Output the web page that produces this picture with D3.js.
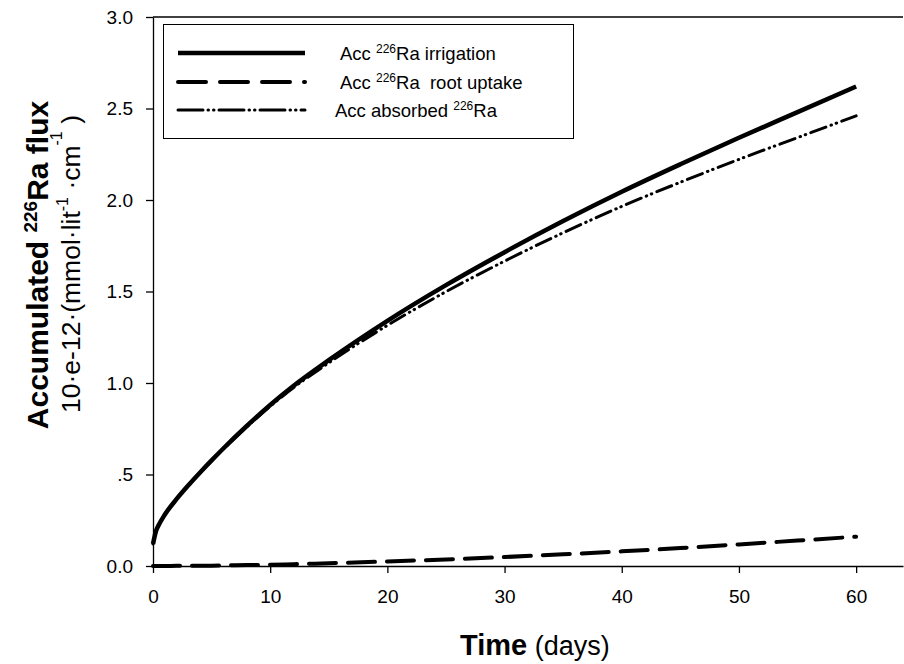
<!DOCTYPE html>
<html>
<head>
<meta charset="utf-8">
<script src="https://cdn.jsdelivr.net/npm/d3@7"></script>
<style>
  html, body { margin: 0; padding: 0; background: #fff; }
  svg text { font-family: Arial, "Liberation Sans", sans-serif; fill: #000; white-space: pre; }
</style>
</head>
<body>
<svg id="chart" width="904" height="664"></svg>
<script>
// ---- data ----
const days       = [0, 0.25, 0.5, 1, 2, 3, 4, 5, 6, 8, 10, 12, 15, 20, 25, 30, 35, 40, 45, 50, 55, 60];
const irrigation = [0.12, 0.19, 0.225, 0.28, 0.365, 0.44, 0.51, 0.577, 0.642, 0.765, 0.88, 0.985, 1.125, 1.34, 1.535, 1.715, 1.885, 2.045, 2.195, 2.34, 2.48, 2.62];
const rootUptake = [0, 0, 0, 0, 0.001, 0.001, 0.002, 0.002, 0.003, 0.005, 0.007, 0.010, 0.015, 0.025, 0.036, 0.049, 0.064, 0.080, 0.098, 0.118, 0.139, 0.160];
const absorbed   = [0.12, 0.19, 0.225, 0.28, 0.364, 0.439, 0.508, 0.575, 0.639, 0.760, 0.873, 0.975, 1.110, 1.315, 1.499, 1.666, 1.821, 1.965, 2.097, 2.222, 2.341, 2.460];
const xTicks = [0, 10, 20, 30, 40, 50, 60];
const yTicks = [0, 0.5, 1.0, 1.5, 2.0, 2.5, 3.0];
const yTickLabels = ["0.0", ".5", "1.0", "1.5", "2.0", "2.5", "3.0"];
const legendItems = [
  {pre: "Acc ", sup: "226", post: "Ra irrigation"},
  {pre: "Acc ", sup: "226", post: "Ra  root uptake"},
  {pre: "Acc absorbed ", sup: "226", post: "Ra"}
];

// ---- layout ----
const svg = d3.select("#chart");
const pLeft = 153, pRight = 903, pTop = 17, pBottom = 566;
const x = d3.scaleLinear().domain([0, 64]).range([pLeft, pRight]);
const y = d3.scaleLinear().domain([0, 3]).range([pBottom, pTop]);

// axes
const xAxis = d3.axisBottom(x).tickValues(xTicks).tickSize(7).tickSizeOuter(0).tickPadding(17).tickFormat(d3.format("d"));
const gx = svg.append("g").attr("transform", `translate(0,${pBottom})`).call(xAxis);
gx.select(".domain").attr("stroke", "#000").attr("stroke-width", 1.3);
gx.selectAll(".tick line").attr("stroke", "#000").attr("stroke-width", 1.3);
gx.selectAll(".tick text").attr("font-size", 19).attr("font-family", "Arial, 'Liberation Sans', sans-serif");

const yAxis = d3.axisLeft(y).tickValues(yTicks).tickSize(7).tickSizeOuter(0).tickPadding(13)
  .tickFormat((d, i) => yTickLabels[i]);
const gy = svg.append("g").attr("transform", `translate(${pLeft},0)`).call(yAxis);
gy.select(".domain").attr("stroke", "#000").attr("stroke-width", 1.3);
gy.selectAll(".tick line").attr("stroke", "#000").attr("stroke-width", 1.3);
gy.selectAll(".tick text").attr("font-size", 19).attr("font-family", "Arial, 'Liberation Sans', sans-serif");

// top frame line
svg.append("line").attr("x1", x(0)).attr("x2", x(64)).attr("y1", y(3)).attr("y2", y(3))
  .attr("stroke", "#000").attr("stroke-width", 1.3);

// lines
const lineGen = vals => d3.line().x((d, i) => x(days[i])).y(d => y(d)).curve(d3.curveMonotoneX)(vals);
svg.append("path").attr("d", lineGen(absorbed)).attr("fill", "none").attr("stroke", "#000")
  .attr("stroke-width", 3).attr("stroke-linecap", "round").attr("stroke-dasharray", "16,5.5,0.5,5,0.5,5.5");
svg.append("path").attr("d", lineGen(irrigation)).attr("fill", "none").attr("stroke", "#000")
  .attr("stroke-width", 4.5);
svg.append("path").attr("d", lineGen(rootUptake)).attr("fill", "none").attr("stroke", "#000")
  .attr("stroke-width", 4).attr("stroke-linecap", "round").attr("stroke-dasharray", "27,12");

// legend
svg.append("rect").attr("x", 163.5).attr("y", 24.5).attr("width", 410).attr("height", 114)
  .attr("fill", "#fff").attr("stroke", "#000").attr("stroke-width", 1);
const legStyles = [
  {w: 4.5, dash: null, cap: "butt"},
  {w: 4, dash: "28,14", cap: "round"},
  {w: 3, dash: "25,5,0.5,5,0.5,5", cap: "round"}
];
const legRowY = [53, 82, 110];
const legTextX = [340, 340, 335];
legendItems.forEach((it, i) => {
  const s = legStyles[i];
  const ln = svg.append("line").attr("x1", 178).attr("x2", 305).attr("y1", legRowY[i]).attr("y2", legRowY[i])
    .attr("stroke", "#000").attr("stroke-width", s.w).attr("stroke-linecap", s.cap);
  if (s.dash) ln.attr("stroke-dasharray", s.dash);
  const t = svg.append("text").attr("x", legTextX[i]).attr("y", legRowY[i] + 7).attr("font-size", 18.5);
  t.append("tspan").text(it.pre);
  t.append("tspan").attr("font-size", 12).attr("dy", -7).text(it.sup);
  t.append("tspan").attr("dy", 7).text(it.post);
});

// y axis title (two lines, rotated)
const yt1 = svg.append("text").attr("transform", "translate(48,265) rotate(-90)")
  .attr("text-anchor", "middle").attr("font-size", 30).attr("font-weight", "bold");
yt1.append("tspan").text("Accumulated ");
yt1.append("tspan").attr("font-size", 19).attr("dy", -11).text("226");
yt1.append("tspan").attr("dy", 11).text("Ra flux");

const yt2 = svg.append("text").attr("transform", "translate(80,264) rotate(-90)")
  .attr("text-anchor", "middle").attr("font-size", 26.5);
yt2.append("tspan").text("10·e-12·(mmol·lit");
yt2.append("tspan").attr("font-size", 16).attr("dy", -12).text("-1");
yt2.append("tspan").attr("dy", 12).text(" ·cm");
yt2.append("tspan").attr("font-size", 16).attr("dy", -18).text("-1");
yt2.append("tspan").attr("dy", 18).text(" )");

// x axis title
const xt = svg.append("text").attr("x", 460).attr("y", 655).attr("font-size", 29);
xt.append("tspan").attr("font-weight", "bold").text("Time");
xt.append("tspan").attr("font-size", 27).text(" (days)");
</script>
</body>
</html>
